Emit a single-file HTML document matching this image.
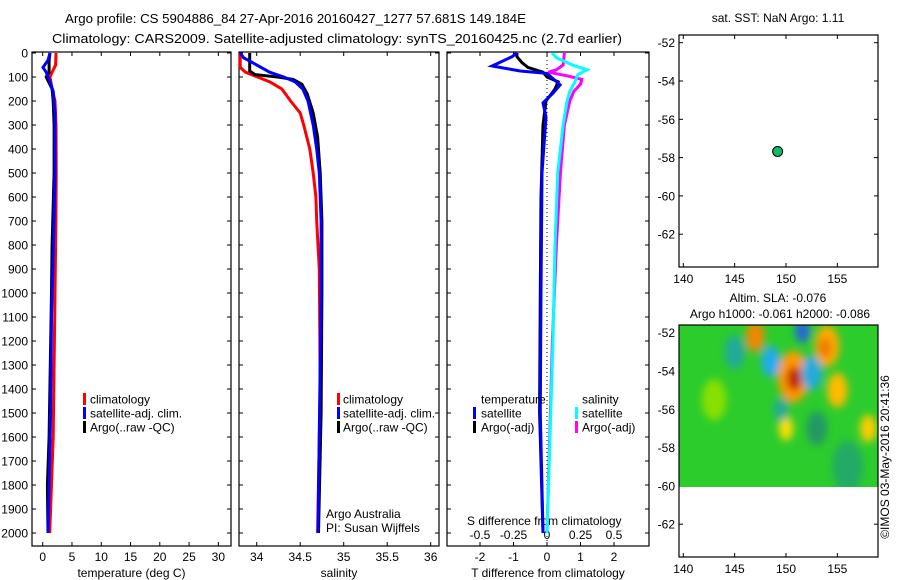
<!DOCTYPE html>
<html><head><meta charset="utf-8">
<style>
html,body{margin:0;padding:0;background:#fff;}
svg{display:block;font-family:"Liberation Sans",sans-serif;}
text{fill:#000;}
</style></head>
<body>
<svg id="c" width="900" height="580" viewBox="0 0 900 580" xmlns="http://www.w3.org/2000/svg">
<defs>
<filter id="blur" x="-50%" y="-50%" width="200%" height="200%"><feGaussianBlur stdDeviation="4"/></filter>
<clipPath id="slaclip"><rect x="679" y="325" width="199" height="162"/></clipPath>
</defs>
<text x="65" y="23" font-size="13" textLength="461" lengthAdjust="spacingAndGlyphs">Argo profile: CS 5904886_84 27-Apr-2016 20160427_1277 57.681S 149.184E</text>
<text x="52" y="43" font-size="13" textLength="570" lengthAdjust="spacingAndGlyphs">Climatology: CARS2009. Satellite-adjusted climatology: synTS_20160425.nc (2.7d earlier)</text>
<g id="g"></g>
</svg>
<script>
// depth axis
const depthTicks=[0,100,200,300,400,500,600,700,800,900,1000,1100,1200,1300,1400,1500,1600,1700,1800,1900,2000];
// temperature panel
const tempTicks=[0,5,10,15,20,25,30];
const tClimD=[0,50,80,100,150,200,300,500,700,1000,1400,1600,2000];
const tClimV=[2.27,2.2,1.6,1.25,1.6,2.1,2.27,2.3,2.25,2.1,1.9,1.8,1.2];
const tSatD=[0,30,60,80,120,160,250,500,800,1100,1500,1800,2000];
const tSatV=[1.25,0.9,0.05,0.6,1.25,1.8,2.1,2.1,1.85,1.5,1.35,1.1,0.9];
const tArgoD=[0,30,80,100,150,200,300,500,800,1000,1600,1800,2000];
const tArgoV=[1.25,1.1,1.1,0.6,1.6,1.8,1.95,1.95,1.6,1.5,1.1,0.8,0.9];
// salinity panel
const salTicks=[34,34.5,35,35.5,36];
const sClimD=[0,60,80,100,120,150,200,250,300,400,500,600,700,900,1400,2000];
const sClimV=[33.81,33.81,33.87,34.01,34.15,34.29,34.39,34.5,34.54,34.61,34.65,34.68,34.69,34.72,34.73,34.7];
const sSatD=[0,20,40,80,100,120,150,200,300,400,500,700,1000,2000];
const sSatV=[33.81,33.85,33.95,34.15,34.31,34.44,34.53,34.59,34.65,34.69,34.72,34.74,34.74,34.705];
const sArgoD=[0,75,90,100,110,130,170,250,350,500,700,1000,1500,2000];
const sArgoV=[33.92,33.92,33.98,34.24,34.42,34.52,34.58,34.65,34.7,34.73,34.75,34.75,34.74,34.71];
// difference panel
const dTTicks=[-2,-1,0,1,2];
const dSTicks=[-0.5,-0.25,0,0.25,0.5];
const dTSatD=[0,15,54,75,85,133,167,208,267,500,1000,1500,2000];
const dTSatV=[-0.9,-1.04,-1.64,-0.8,0,0.39,0.18,-0.12,-0.03,-0.15,-0.18,-0.2,-0.12];
const dTArgoD=[0,15,40,60,80,100,120,150,200,300,600,1000,1500,2000];
const dTArgoV=[-0.9,-0.9,-0.75,-0.57,-0.12,0,0.33,0.24,-0.03,-0.12,-0.18,-0.2,-0.22,-0.12];
const dSSatD=[0,20,50,70,90,120,160,200,300,500,800,1200,2000];
const dSSatV=[0.037,0.07,0.19,0.3,0.23,0.21,0.17,0.15,0.12,0.08,0.06,0.045,0.0];
const dSArgoD=[0,50,70,80,95,110,130,160,200,300,500,800,1200,2000];
const dSArgoV=[0.13,0.12,0.07,0.01,0.15,0.26,0.25,0.2,0.17,0.13,0.1,0.07,0.04,0.0];
// maps
const lonTicks=[140,145,150,155];
const latTicks=[-52,-54,-56,-58,-60,-62];
const argoLon=[149.184];
const argoLat=[-57.681];
const slaBlobLon=[150.7,150.8,147,154,153.8,155,150,148.5,152.5,151.6,158,143,149.5,156,145,153];
const slaBlobLat=[-54.3,-54.4,-52.2,-52.7,-52.8,-55,-57,-53.5,-54.1,-51.9,-57,-55.5,-56,-59,-53,-57];
const slaBlobR=[1.5,0.7,0.9,1.2,0.6,1,0.7,0.9,1,0.7,0.8,1.2,0.7,1.5,1,1];
const slaBlobC=["#ff9900","#bb2200","#ee8800","#ffaa00","#ee7700","#ffbb00","#ffdd00","#22aaee","#22aadd","#2266dd","#ffcc00","#88e000","#22aa99","#22aa66","#22aa99","#229966"];

const NS="http://www.w3.org/2000/svg";
const G=document.getElementById('g');
function mk(tag,attrs,parent){const e=document.createElementNS(NS,tag);for(const k in attrs)e.setAttribute(k,attrs[k]);(parent||G).appendChild(e);return e;}
function txt(x,y,s,size,anchor,name,parent){const e=mk('text',{x:x,y:y,'font-size':size||12,'text-anchor':anchor||'start'},parent);e.textContent=s;


return e;}

const TOP=52,BOT=546;
const yD=d=>53+0.24*d;
const panels=[
 {l:32,r:231,x:v=>42.7+5.855*v,ticks:tempTicks,title:'temperature (deg C)',name:'temperature'},
 {l:239,r:439,x:v=>256.7+87*(v-34),ticks:salTicks,title:'salinity',name:'salinity'},
 {l:447,r:649,x:v=>547+33.5*v,ticks:dTTicks,title:'T difference from climatology',name:'difference'}
];
panels.forEach((p,i)=>{
 const g=mk('g',{});
 
 
 const r=mk('rect',{x:p.l,y:TOP,width:p.r-p.l,height:BOT-TOP,fill:'none',stroke:'#000','stroke-width':1.2},g);
 
 
 depthTicks.forEach(d=>{
  const y=yD(d);
  mk('line',{x1:p.l,x2:p.l+4,y1:y,y2:y,stroke:'#000'},g);
  mk('line',{x1:p.r,x2:p.r-4,y1:y,y2:y,stroke:'#000'},g);
  if(i===0) txt(28,y+4.5,String(d),12,'end','depth-tick-label',g);
 });
 p.ticks.forEach(t=>{
  const x=p.x(t);
  mk('line',{x1:x,x2:x,y1:BOT,y2:BOT-4,stroke:'#000'},g);
  mk('line',{x1:x,x2:x,y1:TOP,y2:TOP+4,stroke:'#000'},g);
  txt(x,561,String(t),12,'middle','x-tick-label',g);
 });
 txt((p.l+p.r)/2,577,p.title,12,'middle','x-axis-title',g);
});
const zl=mk('line',{x1:panels[2].x(0),x2:panels[2].x(0),y1:TOP,y2:BOT,stroke:'#000','stroke-dasharray':'1,3'});


dSTicks.forEach(t=>{txt(547+134*t,539,String(t),12,'middle','s-diff-tick-label');});
txt(467,525,'S difference from climatology',12,'start','s-diff-axis-title');

function line(D,V,fx,color,name){
 const pts=D.map((d,i)=>fx(V[i]).toFixed(1)+','+yD(d).toFixed(1)).join(' ');
 const e=mk('polyline',{points:pts,fill:'none',stroke:color,'stroke-width':3,'stroke-linejoin':'miter'});
 
 
}
const P0=panels[0].x,P1=panels[1].x,P2=panels[2].x,PS=v=>547+134*v;
line(tClimD,tClimV,P0,'#ff0000','temp-climatology-line');
line(tArgoD,tArgoV,P0,'#000000','temp-argo-line');
line(tSatD,tSatV,P0,'#0000ff','temp-satellite-line');
line(sClimD,sClimV,P1,'#ff0000','sal-climatology-line');
line(sArgoD,sArgoV,P1,'#000000','sal-argo-line');
line(sSatD,sSatV,P1,'#0000ff','sal-satellite-line');
line(dSArgoD,dSArgoV,PS,'#ff00ff','sdiff-argo-line');
line(dSSatD,dSSatV,PS,'#00ffff','sdiff-satellite-line');
line(dTArgoD,dTArgoV,P2,'#000000','tdiff-argo-line');
line(dTSatD,dTSatV,P2,'#0000ff','tdiff-satellite-line');

function legend(mx,tx,y,color,label,name){
 const r=mk('rect',{x:mx,y:y-6,width:3,height:12,fill:color});
 
 
 txt(tx,y+4.5,label,12,'start',name+'-label');
}
[[83,90],[337,343]].forEach(([mx,tx])=>{
 legend(mx,tx,399,'#ff0000','climatology','legend-climatology');
 legend(mx,tx,413,'#0000ff','satellite-adj. clim.','legend-satellite-adj');
 legend(mx,tx,427,'#000000','Argo(..raw -QC)','legend-argo');
});
txt(481,403.5,'temperature',12,'start','legend-temperature-header');
legend(473,481,413,'#0000ff','satellite','legend-t-satellite');
legend(473,481,427,'#000000','Argo(-adj)','legend-t-argo');
txt(582,403.5,'salinity',12,'start','legend-salinity-header');
legend(575,582,413,'#00ffff','satellite','legend-s-satellite');
legend(575,582,427,'#ff00ff','Argo(-adj)','legend-s-argo');
txt(326,518,'Argo Australia',12,'start','credit-argo-australia');
txt(326,532,'PI: Susan Wijffels',12,'start','credit-pi');

const lonX=v=>683.3+10.27*(v-140);
function mapAxes(top,bot,lat0y,name){
 const g=mk('g',{});
 
 
 const latY=v=>lat0y+19.15*(-52-v);
 lonTicks.forEach(t=>{const x=lonX(t);
  mk('line',{x1:x,x2:x,y1:bot,y2:bot-4,stroke:'#000'},g);
  mk('line',{x1:x,x2:x,y1:top,y2:top+4,stroke:'#000'},g);
  txt(x,bot+16,String(t),12,'middle','lon-tick-label',g);});
 latTicks.forEach(t=>{const y=latY(t);
  mk('line',{x1:679,x2:683,y1:y,y2:y,stroke:'#000'},g);
  mk('line',{x1:878,x2:874,y1:y,y2:y,stroke:'#000'},g);
  txt(675,y+4.5,String(t),12,'end','lat-tick-label',g);});
 return {g,latY};
}
const m1=mapAxes(35,267,42.7,'sst-location-map');
const f1=mk('rect',{x:679,y:35,width:199,height:232,fill:'none',stroke:'#000','stroke-width':1.2},m1.g);


argoLon.forEach((lo,i)=>{
 const c=mk('circle',{cx:lonX(lo),cy:m1.latY(argoLat[i]),r:5,fill:'#11bb66',stroke:'#000','stroke-width':1});
 
 
});
txt(778,22,'sat. SST: NaN Argo: 1.11',12,'middle','sst-map-title');

const m2=mapAxes(325,557,332.7,'sla-map');
const hg=mk('g',{'clip-path':'url(#slaclip)'},m2.g);


const base=mk('rect',{x:679,y:325,width:199,height:162,fill:'#2ccc2c'},hg);


const bg=mk('g',{filter:'url(#blur)'},hg);
slaBlobLon.forEach((lo,i)=>{
 const e=mk('ellipse',{cx:lonX(lo),cy:m2.latY(slaBlobLat[i]),rx:10.27*slaBlobR[i],ry:19.15*slaBlobR[i]*0.9,fill:slaBlobC[i]},bg);
 
 
});
const f2=mk('rect',{x:679,y:325,width:199,height:232,fill:'none',stroke:'#000','stroke-width':1.2},m2.g);


txt(778,302,'Altim. SLA: -0.076',12,'middle','sla-title-line-1');
txt(780,318,'Argo h1000: -0.061 h2000: -0.086',12,'middle','sla-title-line-2');
const ts=txt(0,0,'©IMOS 03-May-2016 20:41:36',12,'middle','timestamp-credit');
ts.setAttribute('transform','translate(889,457) rotate(-90)');
</script>
</body></html>
